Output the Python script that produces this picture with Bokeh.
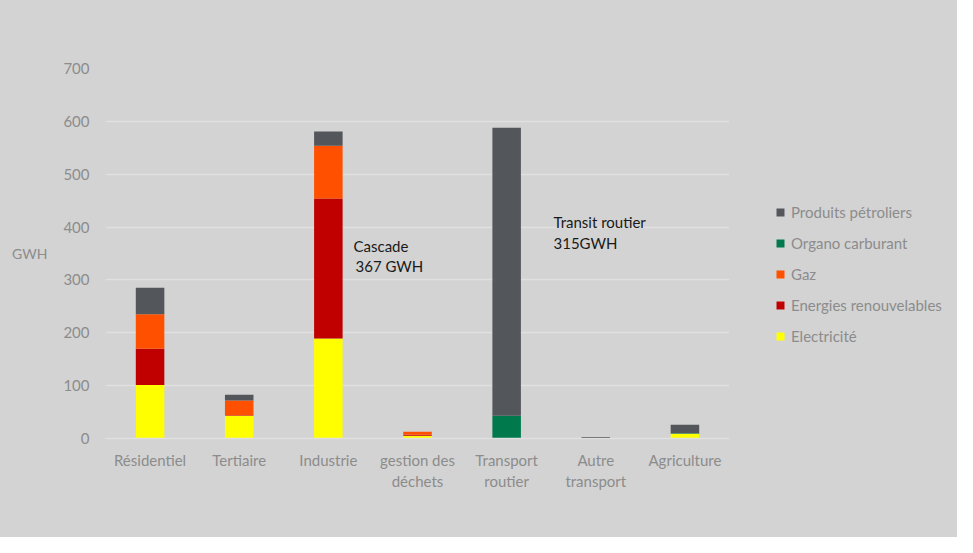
from bokeh.plotting import figure
from bokeh.layouts import row
from bokeh.models import FactorRange, Legend, LegendItem, Label
from bokeh.embed import file_html
from bokeh.resources import INLINE

categories = ["Résidentiel", "Tertiaire", "Industrie", "gestion des\ndéchets",
              "Transport\nroutier", "Autre\ntransport", "Agriculture"]
electricite = [101, 43, 189, 5, 0, 0, 9]
energies_renouvelables = [69, 1, 265, 2, 0, 0, 0]
gaz = [65, 28, 100, 6, 0, 0, 0]
organo_carburant = [0, 0, 0, 0, 43, 0, 1]
produits_petroliers = [50, 11, 27, 0, 545, 3, 16]

series = ["Electricité", "Energies renouvelables", "Gaz", "Organo carburant", "Produits pétroliers"]
colors = ["#ffff00", "#c00000", "#ff5000", "#007a4d", "#53565a"]

data = {"cat": categories, "Electricité": electricite,
        "Energies renouvelables": energies_renouvelables, "Gaz": gaz,
        "Organo carburant": organo_carburant, "Produits pétroliers": produits_petroliers}

BG = "#d3d3d3"
GRID = "#e0e0e0"
TXT = "#8c8c8c"
FONT = "Lato"

p = figure(x_range=FactorRange(*categories), y_range=(0, 700), width=760, height=537,
           output_backend="svg", toolbar_location=None,
           background_fill_color=BG, border_fill_color=BG, outline_line_color=None,
           min_border_left=105, min_border_right=31, min_border_top=68, min_border_bottom=99)

renderers = p.vbar_stack(series, x="cat", width=0.32, color=colors, line_color=None, source=data)

p.xgrid.grid_line_color = None
p.ygrid.grid_line_color = GRID
p.ygrid.grid_line_width = 1.5
p.yaxis.ticker = [0, 100, 200, 300, 400, 500, 600, 700]
p.yaxis.axis_line_color = None
p.yaxis.major_tick_line_color = None
p.yaxis.minor_tick_line_color = None
p.yaxis.major_label_text_color = TXT
p.yaxis.major_label_text_font = FONT
p.yaxis.major_label_text_font_size = "15px"
p.yaxis.major_label_standoff = 10
p.yaxis.axis_label = "GWH"
p.yaxis.axis_label_orientation = "horizontal"
p.yaxis.axis_label_standoff = 13
p.yaxis.axis_label_text_font = FONT
p.yaxis.axis_label_text_font_size = "14px"
p.yaxis.axis_label_text_font_style = "normal"
p.yaxis.axis_label_text_color = TXT

p.xaxis.axis_line_color = GRID
p.xaxis.axis_line_width = 1.5
p.xaxis.major_tick_line_color = None
p.xaxis.minor_tick_line_color = None
p.xaxis.major_label_text_color = TXT
p.xaxis.major_label_text_font = FONT
p.xaxis.major_label_text_font_size = "15px"
p.xaxis.major_label_standoff = 6

def lab(text, x, y, color="#1a1a1a"):
    p.add_layout(Label(x=x, y=y, x_units="screen", y_units="screen", text=text,
                       text_font=FONT, text_font_size="15px", text_color=color,
                       text_baseline="middle", text_align="left"))

lab("Cascade", 248, 193)
lab(" 367 GWH", 250, 173)
lab("Transit routier", 448, 217)
lab("315GWH", 448, 196)

# legend panel: separate figure; its swatch renderers have zero size
pl = figure(x_range=(0, 1), y_range=(0, 1), width=197, height=537,
            output_backend="svg", toolbar_location=None,
            background_fill_color=BG, border_fill_color=BG, outline_line_color=None,
            min_border=0)
pl.axis.visible = False
pl.xgrid.grid_line_color = None
pl.ygrid.grid_line_color = None
lrend = [pl.vbar(x=[0.5], top=[0], bottom=[0], width=0, color=c, line_color=None) for c in colors]
items = [LegendItem(label=s, renderers=[r], index=0) for s, r in zip(series, lrend)][::-1]
legend = Legend(items=items, location=(15, 92), background_fill_alpha=0, border_line_color=None,
                label_text_font=FONT, label_text_font_size="15px", label_text_color=TXT,
                glyph_width=10, glyph_height=10, label_height=20, spacing=11,
                padding=0, margin=0, label_standoff=6)
pl.add_layout(legend)

layout = row(p, pl, styles={"background-color": BG})
open("out.html", "w").write(file_html(layout, INLINE))
